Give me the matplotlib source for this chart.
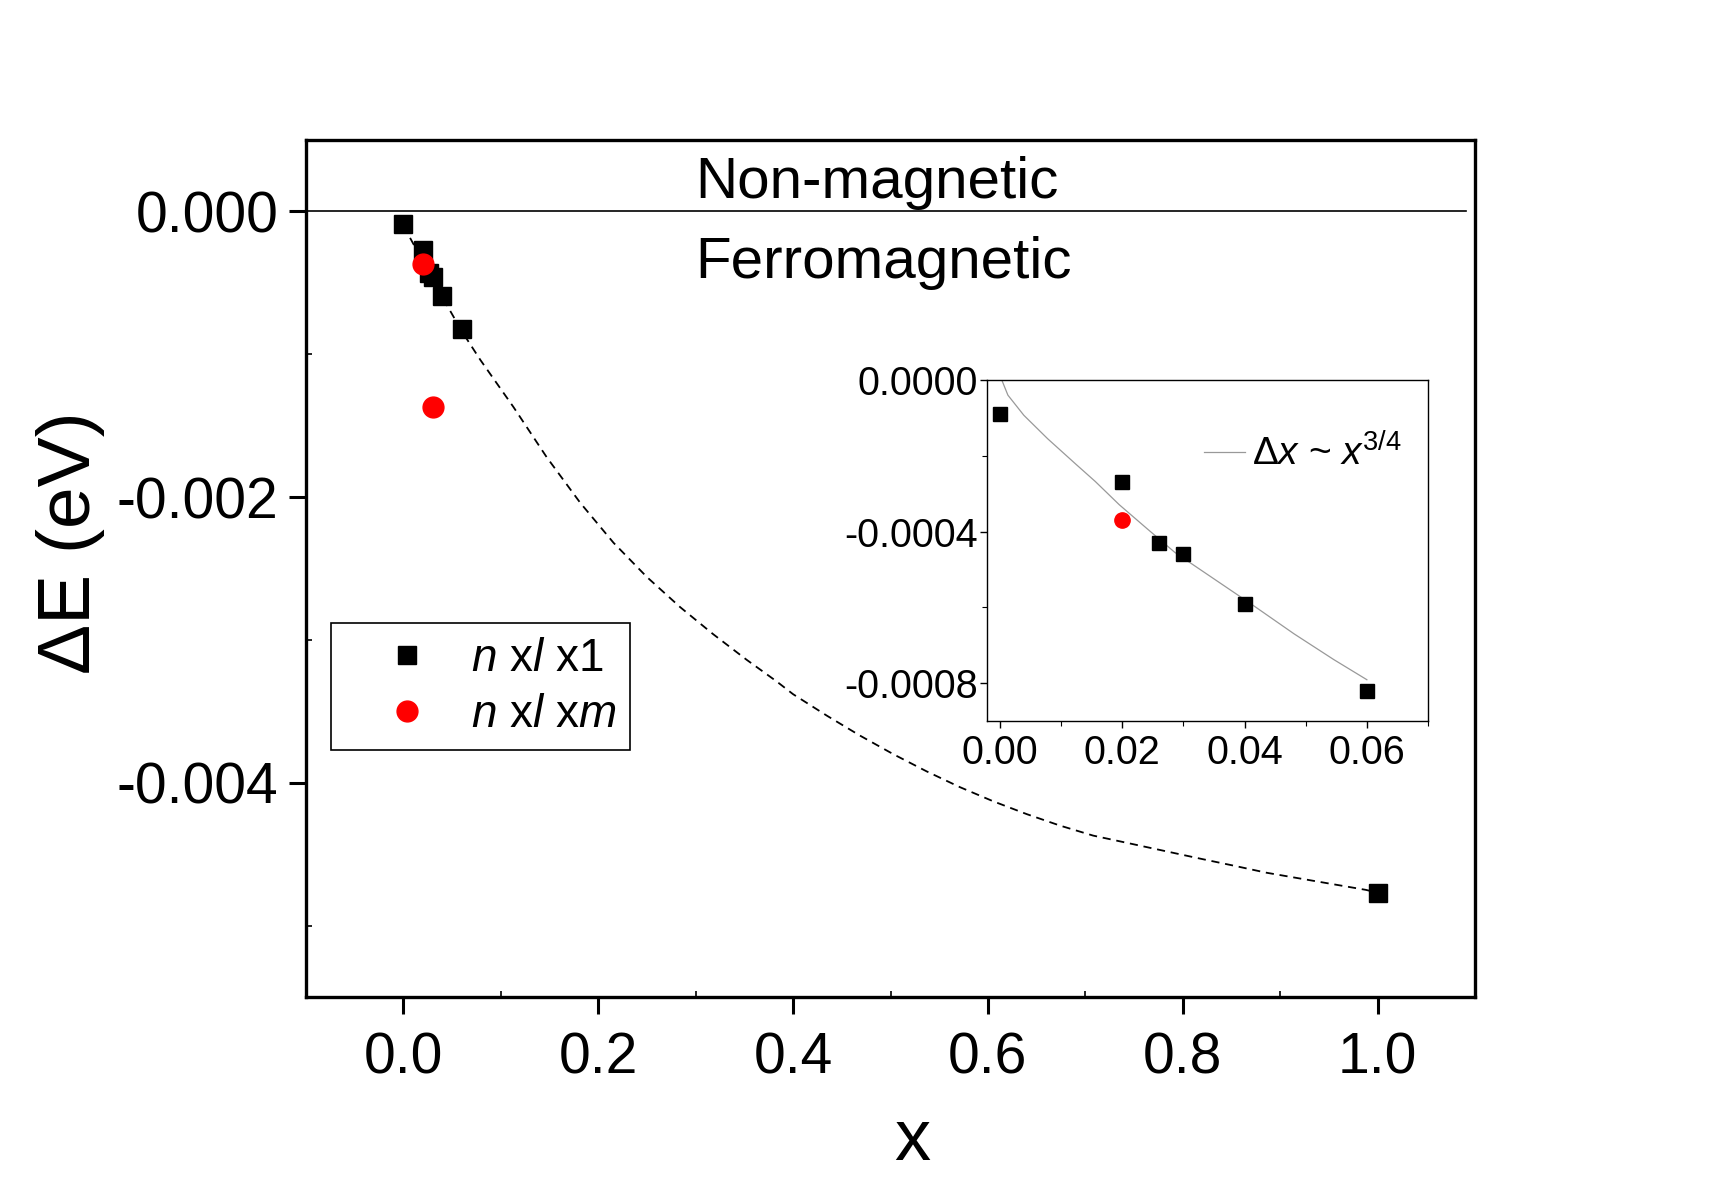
import matplotlib
matplotlib.use("Agg")
import matplotlib.pyplot as plt
from matplotlib.ticker import MultipleLocator, FormatStrFormatter

plt.rcParams['font.family'] = ['Liberation Sans', 'DejaVu Sans']
plt.rcParams['axes.unicode_minus'] = False
plt.rcParams['mathtext.fontset'] = 'custom'
plt.rcParams['mathtext.rm'] = 'Liberation Sans'
plt.rcParams['mathtext.it'] = 'Liberation Sans:italic'

# ---- data ----
x_x1 = [0.0, 0.02, 0.026, 0.03, 0.04, 0.06, 1.0]
dE_x1 = [-0.00009, -0.00027, -0.00043, -0.00046, -0.00059, -0.00082, -0.00477]
x_xm = [0.02, 0.03]
dE_xm = [-0.00037, -0.00137]

# dashed guide curve
guide_x = [0.0, 0.02, 0.04, 0.06, 0.079, 0.113, 0.147, 0.1815, 0.2157, 0.25,
           0.284, 0.318, 0.3525, 0.383, 0.40, 0.4346, 0.4687, 0.5029, 0.537,
           0.571, 0.6055, 0.64, 0.674, 0.708, 0.749, 0.783, 0.817, 0.852, 0.886,
           0.92, 0.954, 0.988, 1.0]
guide_y = [-0.0001, -0.00035, -0.0006, -0.00084, -0.00104, -0.00137, -0.00172,
           -0.00204, -0.00232, -0.00256, -0.00277, -0.00296, -0.00314, -0.00329,
           -0.00338, -0.00353, -0.00367, -0.00380, -0.00392, -0.00403, -0.00413,
           -0.00422, -0.00430, -0.00437, -0.00443, -0.00448, -0.00453, -0.00458,
           -0.00463, -0.00467, -0.00471, -0.00475, -0.00477]

# inset fit curve ~ x^(3/4)
fit_x = [0.0003, 0.0013, 0.0039, 0.0078, 0.0124, 0.0156, 0.0195, 0.0241, 0.0286,
         0.0351, 0.0416, 0.0481, 0.0546, 0.06]
fit_y = [0.0, -0.00004, -0.000093, -0.000155, -0.000222, -0.000268, -0.000329,
         -0.000393, -0.000455, -0.000526, -0.000597, -0.000670, -0.000738, -0.000791]

main_xticks = [0.0, 0.2, 0.4, 0.6, 0.8, 1.0]
main_yticks = [0.0, -0.002, -0.004]
inset_xticks = [0.0, 0.02, 0.04, 0.06]
inset_yticks = [0.0, -0.0004, -0.0008]

W, H = 1713, 1198
fig = plt.figure(figsize=(W / 100, H / 100), dpi=100)

# ---- main axes ----
ax = fig.add_axes([306 / W, 1 - 997 / H, (1475 - 306) / W, (997 - 140) / H])
ax.plot(guide_x, guide_y, color='black', lw=1.3, ls=(0, (4.5, 3.2)), zorder=2)
ax.axhline(0.0, xmin=0.0, xmax=0.992, color='black', lw=1.2, zorder=1)
ax.plot(x_x1, dE_x1, ls='none', marker='s', ms=12.5, color='black',
        label=r'$\mathit{n}\ \mathrm{x}\mathit{l}\ \mathrm{x1}$', zorder=3)
ax.plot(x_xm, dE_xm, ls='none', marker='o', ms=15, color='#ff0000',
        label=r'$\mathit{n}\ \mathrm{x}\mathit{l}\ \mathrm{x}\mathit{m}$', zorder=4)

ax.set_xlim(-0.1, 1.1)
ax.set_ylim(-0.0055, 0.0005)
ax.set_xticks(main_xticks)
ax.set_yticks(main_yticks)
ax.xaxis.set_major_formatter(FormatStrFormatter('%.1f'))
ax.yaxis.set_major_formatter(FormatStrFormatter('%.3f'))
ax.xaxis.set_minor_locator(MultipleLocator(0.1))
ax.yaxis.set_minor_locator(MultipleLocator(0.001))
ax.tick_params(which='major', direction='out', length=12, width=2.2,
               labelsize=41, pad=8)
ax.tick_params(axis='x', which='major', pad=13)
ax.tick_params(which='minor', direction='in', length=4, width=1.2)
for s in ax.spines.values():
    s.set_linewidth(2.4)
ax.set_xlabel('x', fontsize=52, labelpad=16)
ax.xaxis.label.set_x(0.519)
ax.set_ylabel('ΔE (eV)', fontsize=54)
ax.yaxis.set_label_coords(-0.172, 0.53)

ax.text(0.30, 0.0002, 'Non-magnetic', fontsize=42, ha='left', va='center')
ax.text(0.30, -0.00036, 'Ferromagnetic', fontsize=42, ha='left', va='center')

leg = ax.legend(loc='upper left', bbox_to_anchor=(0.0214, 0.436), fontsize=33,
                frameon=True, fancybox=False, edgecolor='black', framealpha=1,
                handletextpad=0.05, labelspacing=0.25, borderpad=0.3,
                handlelength=2.7, borderaxespad=0)
leg.get_frame().set_linewidth(1.2)

# ---- inset ----
axi = fig.add_axes([986.5 / W, 1 - 721 / H, (1428 - 986.5) / W, (721 - 380) / H])
fit_line, = axi.plot(fit_x, fit_y, color='#999999', lw=0.9,
                     label='Δ$\\mathit{x}$ ~ $\\mathit{x}^{3/4}$')
axi.plot(x_x1[:6], dE_x1[:6], ls='none', marker='s', ms=10, color='black', zorder=3)
axi.plot(x_xm, dE_xm, ls='none', marker='o', ms=11, color='#ff0000', zorder=4)
axi.set_xlim(-0.0022, 0.070)
axi.set_ylim(-0.0009, 0.0)
axi.set_xticks(inset_xticks)
axi.set_yticks(inset_yticks)
axi.xaxis.set_major_formatter(FormatStrFormatter('%.2f'))
axi.yaxis.set_major_formatter(FormatStrFormatter('%.4f'))
axi.xaxis.set_minor_locator(MultipleLocator(0.01))
axi.yaxis.set_minor_locator(MultipleLocator(0.0002))
axi.tick_params(which='major', direction='out', length=5, width=1.0,
                labelsize=28.5, pad=4)
axi.tick_params(axis='y', which='major', pad=1)
axi.tick_params(which='minor', direction='out', length=3.5, width=0.8)
for s in axi.spines.values():
    s.set_linewidth(1.0)
axi.legend(handles=[fit_line], loc='center left', bbox_to_anchor=(0.492, 0.782),
           fontsize=28, frameon=False, handlelength=1.05, handletextpad=0.2,
           borderaxespad=0, borderpad=0)

fig.savefig('out.png', dpi=100, facecolor='white')
